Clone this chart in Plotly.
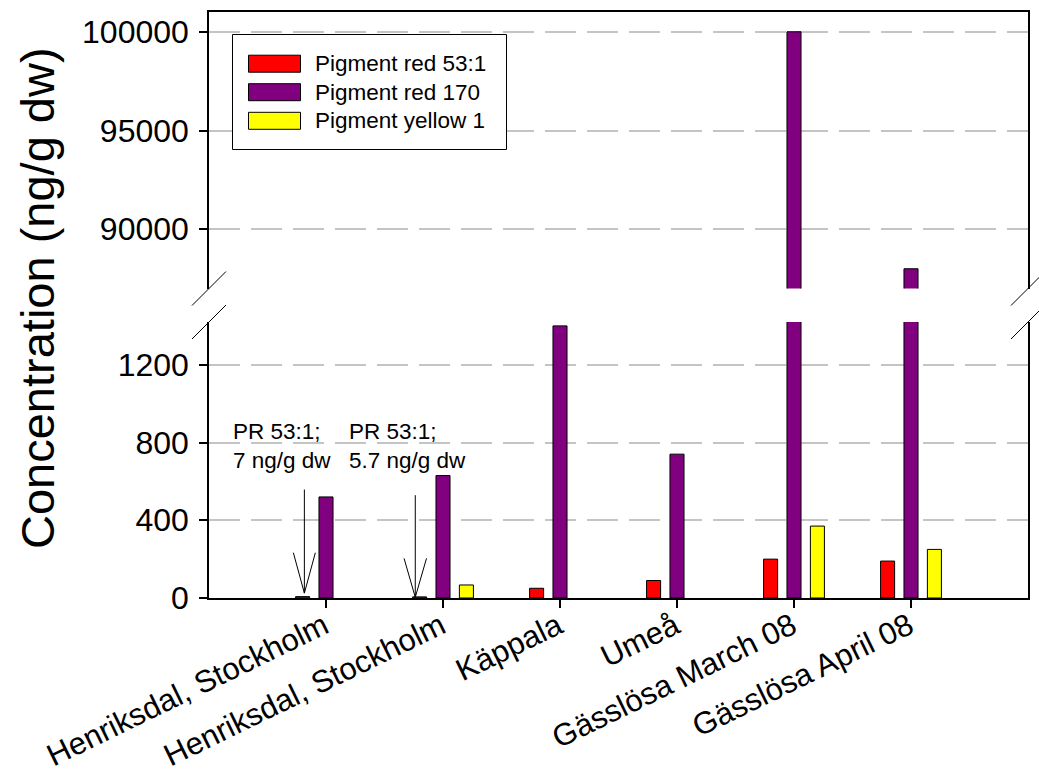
import plotly.graph_objects as go

# Sampling sites (x categories)
sites = [
    "Henriksdal, Stockholm",
    "Henriksdal, Stockholm",
    "Käppala",
    "Umeå",
    "Gässlösa March 08",
    "Gässlösa April 08",
]
# Concentrations, ng/g dw
pr_53_1 = [7, 5.7, 50, 90, 200, 190]
pr_170 = [520, 630, 1400, 740, 100000, 88000]
py_1 = [None, 67, None, None, 370, 250]

series_names = ["Pigment red 53:1", "Pigment red 170", "Pigment yellow 1"]
series_values = [pr_53_1, pr_170, py_1]
series_colors = ["#ff0000", "#800080", "#ffff00"]

low_ticks = [0, 400, 800, 1200]
high_ticks = [90000, 95000, 100000]
low_range = [0, 1420]
high_range = [87000, 101000]

FONT = "Arial, 'Liberation Sans', sans-serif"

# Figure / plot-area geometry in pixels
FW, FH = 1039, 776
L, R, T, B = 209, 1028, 12, 598
W, H = R - L, B - T
BREAK_HI, BREAK_LO = 288.5, 322.0  # bottom of upper panel, top of lower panel


def pxx(xp):
    return (xp - L) / W


def pxy(yp):
    return (B - yp) / H


xpos = list(range(len(sites)))

fig = go.Figure()
for name, vals, col in zip(series_names, series_values, series_colors):
    for xa, ya in (("x", "y"), ("x2", "y2")):
        fig.add_trace(
            go.Bar(
                x=xpos,
                y=vals,
                name=name,
                marker=dict(color=col, line=dict(color="black", width=1)),
                xaxis=xa,
                yaxis=ya,
                showlegend=False,
                cliponaxis=True,
            )
        )

grid = dict(showgrid=True, gridcolor="#c4c4c4", gridwidth=1.5, griddash="31px,11px")
yticks = dict(
    tickfont=dict(size=32, family=FONT),
    ticks="outside",
    ticklen=8,
    tickwidth=1.5,
    tickcolor="black",
    ticklabelstandoff=4,
    showline=True,
    mirror=True,
    linecolor="black",
    linewidth=1.5,
    zeroline=False,
    automargin=False,
)

fig.update_layout(
    width=FW,
    height=FH,
    margin=dict(l=L, r=FW - R, t=T, b=FH - B, pad=0),
    paper_bgcolor="white",
    plot_bgcolor="white",
    barmode="group",
    bargap=0.4,
    bargroupgap=0.4,
    font=dict(family=FONT, color="black"),
    xaxis=dict(
        domain=[0, 1],
        anchor="y",
        range=[-1, 6],
        tickmode="array",
        tickvals=xpos,
        ticktext=sites,
        tickangle=-26,
        tickfont=dict(size=31, family=FONT),
        ticks="outside",
        ticklen=8,
        tickwidth=1.5,
        tickcolor="black",
        ticklabelstandoff=-12,
        ticklabelshift=-2,
        showline=True,
        linecolor="black",
        linewidth=2,
        showgrid=False,
        zeroline=False,
        automargin=False,
    ),
    xaxis2=dict(
        domain=[0, 1],
        anchor="y2",
        matches="x",
        range=[-1, 6],
        side="top",
        showticklabels=False,
        ticks="",
        showline=True,
        linecolor="black",
        linewidth=1.5,
        showgrid=False,
        zeroline=False,
        automargin=False,
    ),
    yaxis=dict(
        domain=[0, pxy(BREAK_LO)],
        anchor="x",
        range=low_range,
        tickmode="array",
        tickvals=low_ticks,
        ticktext=[str(v) for v in low_ticks],
        **yticks,
        **grid,
    ),
    yaxis2=dict(
        domain=[pxy(BREAK_HI), 1],
        anchor="x2",
        range=high_range,
        tickmode="array",
        tickvals=high_ticks,
        ticktext=[str(v) for v in high_ticks],
        **yticks,
        **grid,
    ),
)

shapes = []

# Axis-break slashes on both sides of the plot
for ax_x in (L, R):
    for by in (BREAK_HI, BREAK_LO):
        shapes.append(
            dict(
                type="line",
                xref="paper",
                yref="paper",
                x0=pxx(ax_x - 17),
                y0=pxy(by + 17),
                x1=pxx(ax_x + 17),
                y1=pxy(by - 17),
                line=dict(color="black", width=1),
            )
        )

# Open arrows pointing at the tiny PR 53:1 bars
arrows = [
    dict(x=-0.185, tail=558, tip=25, head=233, half=0.094),
    dict(x=0.763, tail=529, tip=4, head=204, half=0.096),
]
for a in arrows:
    shapes.append(
        dict(type="line", xref="x", yref="y", x0=a["x"], x1=a["x"],
             y0=a["tail"], y1=a["tip"], line=dict(color="black", width=1))
    )
    for s in (-1, 1):
        shapes.append(
            dict(type="line", xref="x", yref="y",
                 x0=a["x"] + s * a["half"], y0=a["head"],
                 x1=a["x"], y1=a["tip"], line=dict(color="black", width=1))
        )

# Legend box with wide colour swatches
shapes.append(
    dict(type="rect", xref="paper", yref="paper",
         x0=pxx(232.5), x1=pxx(506.5), y0=pxy(149.5), y1=pxy(34.5),
         line=dict(color="black", width=1), fillcolor="white", layer="above")
)
row_y = [63.7, 92.2, 120.8]
annotations = []
for name, col, ry in zip(series_names, series_colors, row_y):
    shapes.append(
        dict(type="rect", xref="paper", yref="paper",
             x0=pxx(248.5), x1=pxx(300.5), y0=pxy(ry + 8.5), y1=pxy(ry - 8.5),
             line=dict(color="black", width=1), fillcolor=col, layer="above")
    )
    annotations.append(
        dict(xref="paper", yref="paper", x=pxx(313), y=pxy(ry), text=name,
             showarrow=False, xanchor="left", yanchor="middle",
             font=dict(size=22.5, family=FONT, color="black"))
    )

# Notes for the values too small to see
annotations.append(
    dict(xref="paper", yref="paper", x=pxx(231), y=pxy(417), text="PR 53:1;<br>7 ng/g dw",
         showarrow=False, xanchor="left", yanchor="top", align="left",
         font=dict(size=22.5, family=FONT, color="black"))
)
annotations.append(
    dict(xref="paper", yref="paper", x=pxx(347), y=pxy(417), text="PR 53:1;<br>5.7 ng/g dw",
         showarrow=False, xanchor="left", yanchor="top", align="left",
         font=dict(size=22.5, family=FONT, color="black"))
)

# Y-axis title spanning both panels
annotations.append(
    dict(xref="paper", yref="paper", x=pxx(37), y=pxy(298),
         text="Concentration (ng/g dw)", showarrow=False, textangle=-90,
         xanchor="center", yanchor="middle",
         font=dict(size=47, family=FONT, color="black"))
)

fig.update_layout(shapes=shapes, annotations=annotations)

fig.write_html("out.html")
